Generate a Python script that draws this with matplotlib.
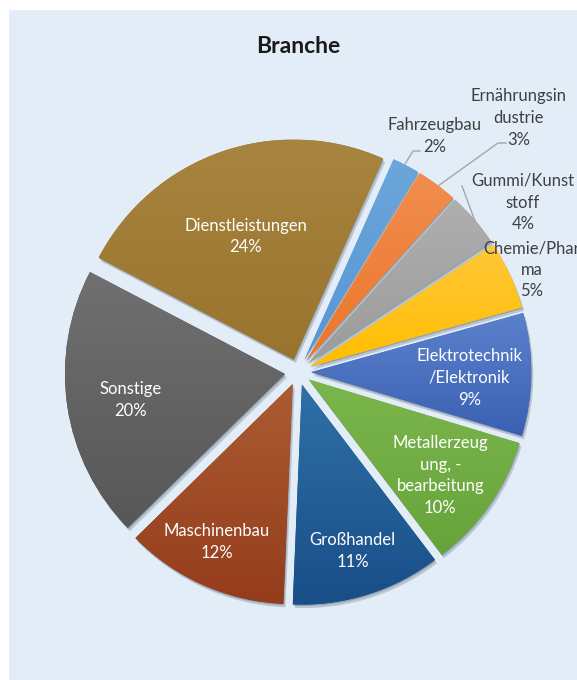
import matplotlib.pyplot as plt
import matplotlib.patches as patches
import matplotlib.patheffects as pe
import matplotlib.colors as mcolors
import numpy as np

# =========================
# DATA
# =========================
categories = ["Fahrzeugbau", "Ernährungsindustrie", "Gummi/Kunststoff", "Chemie/Pharma",
              "Elektrotechnik/Elektronik", "Metallerzeugung, -bearbeitung", "Großhandel",
              "Maschinenbau", "Sonstige", "Dienstleistungen"]
shares = [2, 3, 4, 5, 9, 10, 11, 12, 20, 24]
# labels as Excel wraps them
label_texts = ["Fahrzeugbau", "Ernährungsin\ndustrie", "Gummi/Kunst\nstoff", "Chemie/Phar\nma",
               "Elektrotechnik\n/Elektronik", "Metallerzeug\nung, -\nbearbeitung", "Großhandel",
               "Maschinenbau", "Sonstige", "Dienstleistungen"]

# =========================
# STYLE
# =========================
# (top colour, bottom colour) of each slice's gradient
GRADIENTS = [("#6CA6DB", "#5596D2"), ("#F28D4E", "#EC7629"), ("#AFAFAF", "#9B9B9B"),
             ("#FFC73A", "#FFBE00"), ("#5B81CD", "#3A60B2"), ("#7BB64C", "#66A43B"),
             ("#3070A7", "#194E88"), ("#AB5C32", "#953C1C"), ("#707070", "#575757"),
             ("#A7843F", "#99742E")]
INSIDE = [False, False, False, False, True, True, True, True, True, True]
LABEL_R = [1.24, 1.53, 1.28, 1.16, 0.78, 0.80, 0.85, 0.855, 0.77, 0.66]
LABEL_DA = [2.4, 4.4, 3.8, 1.0, 1.4, 1.2, 0.4, 1.5, -1.1, -1.8]
BG = "#E2EDF8"
FONT = "Lato"

W, H = 577, 680
CX, CY, R = 298, 372, 220  # pie centre / radius in pixels
START = 24                 # degrees clockwise from 12 o'clock
EXPLODE = 0.06


def px(x, y):
    """pixel (from top-left) -> data coords"""
    return (x - CX) / R, (CY - y) / R


fig = plt.figure(figsize=(W / 100, H / 100), dpi=100, facecolor="white")
ax = fig.add_axes([0, 0, 1, 1])
ax.patch.set_alpha(0)
# light blue chart area
ax.add_patch(patches.Rectangle((9 / W, 0), 1, 1 - 10 / H, transform=ax.transAxes,
                               facecolor=BG, edgecolor="none", zorder=-5))

wedges, _ = ax.pie(shares, colors=[g[1] for g in GRADIENTS], startangle=90 - START,
                   counterclock=False, explode=[EXPLODE] * len(shares), radius=1,
                   wedgeprops=dict(linewidth=0))

for w, (top, bot) in zip(wedges, GRADIENTS):
    w.set_path_effects([pe.SimplePatchShadow(offset=(1.5, -2.5), shadow_rgbFace="#2a3a4a", alpha=0.22),
                        pe.SimplePatchShadow(offset=(0.5, -1), shadow_rgbFace="#2a3a4a", alpha=0.25),
                        pe.Normal()])
    # vertical gradient, lighter on top
    bb = w.get_path().get_extents(w.get_patch_transform())
    t = np.linspace(0, 1, 64)[:, None]
    img = ((1 - t) * np.array(mcolors.to_rgb(top)) + t * np.array(mcolors.to_rgb(bot)))[:, None, :]
    im = ax.imshow(img, extent=[bb.x0, bb.x1, bb.y0, bb.y1], origin="upper",
                   aspect="auto", zorder=w.get_zorder() + 0.1, interpolation="bilinear")
    im.set_clip_path(w)

# labels
for w, txt, val, inside, lr, da in zip(wedges, label_texts, shares, INSIDE, LABEL_R, LABEL_DA):
    mid = np.deg2rad(90 - (w.theta1 + w.theta2) / 2) + np.deg2rad(da)
    x, y = lr * np.sin(mid), lr * np.cos(mid)
    ax.text(x, y, f"{txt}\n{val}%", ha="center", va="center", family=FONT, fontsize=12,
            color="white" if inside else "#404040", linespacing=1.43, zorder=10)

# leader lines for the small outer slices
leaders = {0: [(405, 164), (413, 151), (420, 151)],
           1: [(438, 186), (498, 143), (506, 143)],
           2: [(475, 221), (462, 186)]}
for i, pts in leaders.items():
    xy = np.array([px(*p) for p in pts])
    ax.plot(xy[:, 0], xy[:, 1], color="#A6A6A6", lw=1, zorder=9)

ax.text(0.5165, 1 - 53 / H, "Branche", ha="center", va="baseline", family=FONT,
        fontsize=16.5, fontweight="bold", color="#1a1a1a", transform=ax.transAxes)

x0, y0 = px(0, H)
x1, y1 = px(W, 0)
ax.set_xlim(x0, x1)
ax.set_ylim(y0, y1)
ax.set_aspect("auto")
ax.axis("off")

fig.savefig("out.png", dpi=100, facecolor="white")
